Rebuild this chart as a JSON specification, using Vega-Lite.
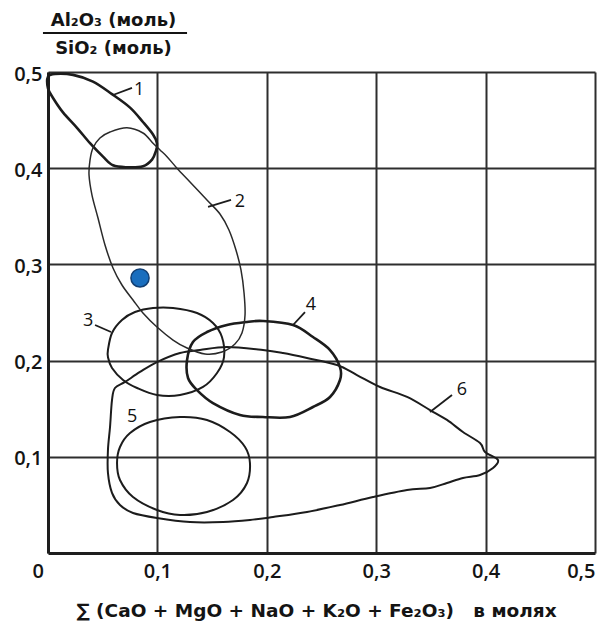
{
  "$schema": "https://vega.github.io/schema/vega-lite/v6.json",
  "width": 547,
  "height": 481,
  "autosize": "none",
  "padding": {"left": 48, "top": 72, "right": 12, "bottom": 69},
  "background": "white",
  "config": {
    "view": {"stroke": null},
    "axis": {
      "grid": true,
      "gridColor": "#2e2e2e",
      "gridWidth": 2,
      "gridOpacity": 1,
      "domainColor": "#1e1e1e",
      "domainWidth": 3,
      "ticks": false,
      "tickSize": 0,
      "labelFont": "Open Sans",
      "labelFontSize": 20,
      "labelFontWeight": 600,
      "labelColor": "#141414",
      "titleFont": "DejaVu Sans",
      "titleFontSize": 18.5,
      "titleFontWeight": "bold",
      "titleColor": "#141414"
    }
  },
  "datasets": {
    "curves": [
      {"c":1,"i":0,"x":0.000,"y":0.495},{"c":1,"i":1,"x":0.0064,"y":0.498},{"c":1,"i":2,"x":0.0229,"y":0.497},{"c":1,"i":3,"x":0.0411,"y":0.490},{"c":1,"i":4,"x":0.0585,"y":0.477},{"c":1,"i":5,"x":0.075,"y":0.463},{"c":1,"i":6,"x":0.0868,"y":0.448},{"c":1,"i":7,"x":0.096,"y":0.435},{"c":1,"i":8,"x":0.0996,"y":0.426},{"c":1,"i":9,"x":0.0987,"y":0.418},{"c":1,"i":10,"x":0.0951,"y":0.409},{"c":1,"i":11,"x":0.0868,"y":0.402},{"c":1,"i":12,"x":0.0722,"y":0.401},{"c":1,"i":13,"x":0.0594,"y":0.403},{"c":1,"i":14,"x":0.0503,"y":0.412},{"c":1,"i":15,"x":0.0384,"y":0.426},{"c":1,"i":16,"x":0.0265,"y":0.442},{"c":1,"i":17,"x":0.0137,"y":0.458},{"c":1,"i":18,"x":0.0046,"y":0.473},{"c":1,"i":19,"x":0.000,"y":0.483},
      {"c":2,"i":0,"x":0.0722,"y":0.442},{"c":2,"i":1,"x":0.0868,"y":0.4366},{"c":2,"i":2,"x":0.096,"y":0.426},{"c":2,"i":3,"x":0.1024,"y":0.419},{"c":2,"i":4,"x":0.1088,"y":0.412},{"c":2,"i":5,"x":0.1179,"y":0.400},{"c":2,"i":6,"x":0.1298,"y":0.3857},{"c":2,"i":7,"x":0.1453,"y":0.367},{"c":2,"i":8,"x":0.1572,"y":0.3524},{"c":2,"i":9,"x":0.1654,"y":0.3358},{"c":2,"i":10,"x":0.1718,"y":0.315},{"c":2,"i":11,"x":0.1764,"y":0.2942},{"c":2,"i":12,"x":0.1792,"y":0.2703},{"c":2,"i":13,"x":0.1801,"y":0.2474},{"c":2,"i":14,"x":0.1773,"y":0.2287},{"c":2,"i":15,"x":0.1709,"y":0.2173},{"c":2,"i":16,"x":0.159,"y":0.2089},{"c":2,"i":17,"x":0.1435,"y":0.2069},{"c":2,"i":18,"x":0.1271,"y":0.2131},{"c":2,"i":19,"x":0.1143,"y":0.2214},{"c":2,"i":20,"x":0.0996,"y":0.2349},{"c":2,"i":21,"x":0.0868,"y":0.2495},{"c":2,"i":22,"x":0.0777,"y":0.263},{"c":2,"i":23,"x":0.0676,"y":0.2786},{"c":2,"i":24,"x":0.0594,"y":0.2963},{"c":2,"i":25,"x":0.0521,"y":0.3202},{"c":2,"i":26,"x":0.0457,"y":0.3482},{"c":2,"i":27,"x":0.0402,"y":0.3721},{"c":2,"i":28,"x":0.0375,"y":0.3929},{"c":2,"i":29,"x":0.0384,"y":0.4085},{"c":2,"i":30,"x":0.0411,"y":0.421},{"c":2,"i":31,"x":0.0475,"y":0.4314},{"c":2,"i":32,"x":0.0567,"y":0.4376},
      {"c":3,"i":0,"x":0.0548,"y":0.211},{"c":3,"i":1,"x":0.0585,"y":0.2287},{"c":3,"i":2,"x":0.0676,"y":0.2422},{"c":3,"i":3,"x":0.0795,"y":0.2505},{"c":3,"i":4,"x":0.096,"y":0.2547},{"c":3,"i":5,"x":0.1143,"y":0.2547},{"c":3,"i":6,"x":0.1362,"y":0.2495},{"c":3,"i":7,"x":0.1508,"y":0.2391},{"c":3,"i":8,"x":0.159,"y":0.2245},{"c":3,"i":9,"x":0.1609,"y":0.2037},{"c":3,"i":10,"x":0.1545,"y":0.1871},{"c":3,"i":11,"x":0.1417,"y":0.1726},{"c":3,"i":12,"x":0.1207,"y":0.1642},{"c":3,"i":13,"x":0.0996,"y":0.1642},{"c":3,"i":14,"x":0.0814,"y":0.1715},{"c":3,"i":15,"x":0.0686,"y":0.1798},{"c":3,"i":16,"x":0.0585,"y":0.1923},{"c":3,"i":17,"x":0.0548,"y":0.2037},
      {"c":4,"i":0,"x":0.1819,"y":0.2401},{"c":4,"i":1,"x":0.1965,"y":0.2412},{"c":4,"i":2,"x":0.224,"y":0.237},{"c":4,"i":3,"x":0.2422,"y":0.2245},{"c":4,"i":4,"x":0.2578,"y":0.211},{"c":4,"i":5,"x":0.2669,"y":0.1933},{"c":4,"i":6,"x":0.2669,"y":0.1798},{"c":4,"i":7,"x":0.2578,"y":0.1622},{"c":4,"i":8,"x":0.2422,"y":0.1518},{"c":4,"i":9,"x":0.2212,"y":0.1414},{"c":4,"i":10,"x":0.1965,"y":0.1414},{"c":4,"i":11,"x":0.1755,"y":0.1435},{"c":4,"i":12,"x":0.1508,"y":0.1559},{"c":4,"i":13,"x":0.1362,"y":0.1694},{"c":4,"i":14,"x":0.128,"y":0.1819},{"c":4,"i":15,"x":0.1271,"y":0.2006},{"c":4,"i":16,"x":0.1325,"y":0.2193},{"c":4,"i":17,"x":0.1453,"y":0.2297},{"c":4,"i":18,"x":0.1636,"y":0.237},
      {"c":5,"i":0,"x":0.075,"y":0.1247},{"c":5,"i":1,"x":0.0932,"y":0.1362},{"c":5,"i":2,"x":0.1207,"y":0.1414},{"c":5,"i":3,"x":0.1453,"y":0.1383},{"c":5,"i":4,"x":0.1664,"y":0.1258},{"c":5,"i":5,"x":0.1801,"y":0.1102},{"c":5,"i":6,"x":0.1846,"y":0.0936},{"c":5,"i":7,"x":0.1819,"y":0.0728},{"c":5,"i":8,"x":0.1691,"y":0.0551},{"c":5,"i":9,"x":0.1453,"y":0.0426},{"c":5,"i":10,"x":0.1207,"y":0.0395},{"c":5,"i":11,"x":0.0996,"y":0.0447},{"c":5,"i":12,"x":0.0777,"y":0.0582},{"c":5,"i":13,"x":0.0658,"y":0.0759},{"c":5,"i":14,"x":0.0631,"y":0.0936},{"c":5,"i":15,"x":0.0658,"y":0.1102},
      {"c":6,"i":0,"x":0.0704,"y":0.1778},{"c":6,"i":1,"x":0.0841,"y":0.1882},{"c":6,"i":2,"x":0.0996,"y":0.1985},{"c":6,"i":3,"x":0.1207,"y":0.2079},{"c":6,"i":4,"x":0.1389,"y":0.211},{"c":6,"i":5,"x":0.1636,"y":0.2141},{"c":6,"i":6,"x":0.1965,"y":0.211},{"c":6,"i":7,"x":0.2148,"y":0.2079},{"c":6,"i":8,"x":0.2367,"y":0.2027},{"c":6,"i":9,"x":0.2642,"y":0.1954},{"c":6,"i":10,"x":0.2824,"y":0.185},{"c":6,"i":11,"x":0.3035,"y":0.1726},{"c":6,"i":12,"x":0.3282,"y":0.1622},{"c":6,"i":13,"x":0.3492,"y":0.1486},{"c":6,"i":14,"x":0.3647,"y":0.1383},{"c":6,"i":15,"x":0.3793,"y":0.1258},{"c":6,"i":16,"x":0.3949,"y":0.1143},{"c":6,"i":17,"x":0.3995,"y":0.105},{"c":6,"i":18,"x":0.4113,"y":0.0967},{"c":6,"i":19,"x":0.4068,"y":0.0884},{"c":6,"i":20,"x":0.3949,"y":0.0811},{"c":6,"i":21,"x":0.3793,"y":0.078},{"c":6,"i":22,"x":0.3647,"y":0.0728},{"c":6,"i":23,"x":0.3492,"y":0.0676},{"c":6,"i":24,"x":0.3282,"y":0.0655},{"c":6,"i":25,"x":0.2971,"y":0.0582},{"c":6,"i":26,"x":0.2669,"y":0.0499},{"c":6,"i":27,"x":0.2367,"y":0.0426},{"c":6,"i":28,"x":0.2057,"y":0.0374},{"c":6,"i":29,"x":0.1846,"y":0.0343},{"c":6,"i":30,"x":0.16,"y":0.0322},{"c":6,"i":31,"x":0.1298,"y":0.0322},{"c":6,"i":32,"x":0.0996,"y":0.0364},{"c":6,"i":33,"x":0.0777,"y":0.0416},{"c":6,"i":34,"x":0.0658,"y":0.0499},{"c":6,"i":35,"x":0.0585,"y":0.0624},{"c":6,"i":36,"x":0.0548,"y":0.0832},{"c":6,"i":37,"x":0.0548,"y":0.1071},{"c":6,"i":38,"x":0.0567,"y":0.131},{"c":6,"i":39,"x":0.0585,"y":0.159},{"c":6,"i":40,"x":0.0612,"y":0.1715}
    ],
    "labels": [
      {"t":"1","x":0.0832,"y":0.4813},
      {"t":"2","x":0.1755,"y":0.3649},
      {"t":"3","x":0.0366,"y":0.2412},
      {"t":"4","x":0.2404,"y":0.2578},
      {"t":"5","x":0.0768,"y":0.1414},
      {"t":"6","x":0.3784,"y":0.1694}
    ],
    "leaders": [
      {"x":0.0594,"y":0.4761,"x2":0.0768,"y2":0.4834},
      {"x":0.1463,"y":0.3597,"x2":0.1673,"y2":0.367},
      {"x":0.043,"y":0.237,"x2":0.0576,"y2":0.2297},
      {"x":0.224,"y":0.237,"x2":0.2349,"y2":0.2505},
      {"x":0.3492,"y":0.1466,"x2":0.3693,"y2":0.1642}
    ],
    "fraction": [{"x":-0.0046,"x2":0.1271,"y":0.5405}],
    "point": [{"x":0.0841,"y":0.2859}]
  },
  "encoding": {
    "x": {
      "field": "x", "type": "quantitative",
      "scale": {"domain": [0, 0.5], "nice": false, "zero": false},
      "axis": {
        "orient": "bottom",
        "values": [0, 0.1, 0.2, 0.3, 0.4, 0.5],
        "labelExpr": "replace(format(datum.value, '.1~f'), '.', ',')",
        "labelPadding": 8,
        "labelOffset": {"condition": {"test": "datum.value === 0", "value": -16}, "value": 0},
        "title": "∑ (CaO + MgO + NaO + K₂O + Fe₂O₃)\u00a0\u00a0 в молях",
        "titleX": 268,
        "titleY": 63,
        "titleAlign": "center",
        "titleAnchor": "start",
        "titleBaseline": "alphabetic"
      }
    },
    "y": {
      "field": "y", "type": "quantitative",
      "scale": {"domain": [0, 0.5], "nice": false, "zero": false},
      "axis": {
        "orient": "left",
        "values": [0.1, 0.2, 0.3, 0.4, 0.5],
        "labelExpr": "replace(format(datum.value, '.1~f'), '.', ',')",
        "labelPadding": 6,
        "labelOffset": 2,
        "title": ["Al₂O₃ (моль)", "SiO₂ (моль)"],
        "titleFontSize": 18,
        "titleAngle": 0,
        "titleX": 65,
        "titleY": -61,
        "titleAlign": "center",
        "titleAnchor": "start",
        "titleBaseline": "top",
        "titleLineHeight": 28
      }
    }
  },
  "layer": [
    {
      "data": {"name": "curves"},
      "transform": [{"filter": "datum.c === 1 || datum.c === 4"}],
      "mark": {"type": "line", "interpolate": "cardinal-closed", "color": "#1c1c1c", "strokeWidth": 2.6},
      "encoding": {"order": {"field": "i", "type": "quantitative"}, "detail": {"field": "c"}}
    },
    {
      "data": {"name": "curves"},
      "transform": [{"filter": "datum.c === 3 || datum.c === 5 || datum.c === 6"}],
      "mark": {"type": "line", "interpolate": "cardinal-closed", "color": "#1c1c1c", "strokeWidth": 2},
      "encoding": {"order": {"field": "i", "type": "quantitative"}, "detail": {"field": "c"}}
    },
    {
      "data": {"name": "curves"},
      "transform": [{"filter": "datum.c === 2"}],
      "mark": {"type": "line", "interpolate": "cardinal-closed", "color": "#2a2a2a", "strokeWidth": 1.5},
      "encoding": {"order": {"field": "i", "type": "quantitative"}, "detail": {"field": "c"}}
    },
    {
      "data": {"name": "leaders"},
      "mark": {"type": "rule", "color": "#1c1c1c", "strokeWidth": 1.8},
      "encoding": {"x2": {"field": "x2"}, "y2": {"field": "y2"}}
    },
    {
      "data": {"name": "fraction"},
      "mark": {"type": "rule", "color": "#141414", "strokeWidth": 2, "clip": false},
      "encoding": {"x2": {"field": "x2"}}
    },
    {
      "data": {"name": "labels"},
      "mark": {"type": "text", "font": "Open Sans", "fontSize": 18, "color": "#111", "align": "center", "baseline": "middle"},
      "encoding": {"text": {"field": "t"}}
    },
    {
      "data": {"name": "point"},
      "mark": {"type": "point", "shape": "circle", "filled": true, "size": 330, "color": "#1a6ebe", "stroke": "#123f73", "strokeWidth": 1.5, "opacity": 1}
    }
  ]
}
